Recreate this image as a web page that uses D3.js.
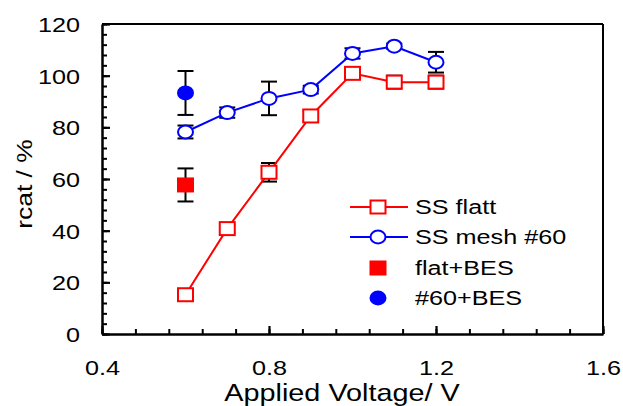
<!DOCTYPE html>
<html>
<head>
<meta charset="utf-8">
<script src="https://cdn.jsdelivr.net/npm/d3@7"></script>
<style>
  body { margin: 0; background: #fff; }
  text { font-family: "Liberation Sans", Arial, sans-serif; fill: #000; }
</style>
</head>
<body>
<svg id="chart" width="623" height="406"></svg>
<script>
const voltages = [0.6, 0.7, 0.8, 0.9, 1.0, 1.1, 1.2]
const flatValues = [15.2, 40.8, 62.6, 84.4, 100.9, 97.5, 97.5]
const flatErrors = [1, 1.5, 3.6, 2, 1, 2.5, 2.5]
const meshValues = [78.2, 85.7, 91.2, 94.6, 108.6, 111.4, 105.2]
const meshErrors = [2.5, 2, 6.5, 1.5, 2, 1, 4]
const besVoltage = [0.6]
const flatBesValues = [57.7]
const flatBesErrors = [6.4]
const meshBesValues = [93.3]
const meshBesErrors = [8.5]
const xTicks = [0.4, 0.8, 1.2, 1.6]
const yTicks = [0, 20, 40, 60, 80, 100, 120]
const legendLabels = ['SS flatt', 'SS mesh #60', 'flat+BES', '#60+BES']

const STRETCH = 1.2
const RED = '#ff0000', BLUE = '#0000ff'

const svg = d3.select('#chart');
const plotLeft = 102, plotRight = 603, plotTop = 24, plotBottom = 334;

const x = d3.scaleLinear().domain([0.4, 1.6]).range([plotLeft, plotRight]);
const y = d3.scaleLinear().domain([0, 120]).range([plotBottom, plotTop]);

// minor ticks first so major ones sit on top
const xMinor = d3.range(0.4, 1.6001, 0.08);
const yMinor = d3.range(0, 120.001, 4);

svg.append('g')
   .attr('transform', `translate(0,${plotBottom})`)
   .call(d3.axisBottom(x).tickValues(xMinor).tickSizeInner(-5).tickSizeOuter(0).tickFormat(''))
   .call(g => g.selectAll('line').attr('stroke-width', 2));
svg.append('g')
   .attr('transform', `translate(${plotLeft},0)`)
   .call(d3.axisLeft(y).tickValues(yMinor).tickSizeInner(-5).tickSizeOuter(0).tickFormat(''))
   .call(g => g.selectAll('line').attr('stroke-width', 2));

const xAxis = svg.append('g')
   .attr('transform', `translate(0,${plotBottom})`)
   .call(d3.axisBottom(x).tickValues(xTicks).tickSizeInner(-8).tickSizeOuter(0).tickPadding(26).tickFormat(d3.format('.1f')));
const yAxis = svg.append('g')
   .attr('transform', `translate(${plotLeft},0)`)
   .call(d3.axisLeft(y).tickValues(yTicks).tickSizeInner(-8).tickSizeOuter(0).tickPadding(22).tickFormat(d3.format('d')));

[xAxis, yAxis].forEach(ax => {
  ax.select('.domain').attr('stroke-width', 2.5);
  ax.selectAll('line').attr('stroke-width', 2.2);
  ax.selectAll('text')
    .attr('font-size', 21)
    .attr('font-family', '"Liberation Sans", Arial, sans-serif')
    .each(function() {
      const t = d3.select(this);
      const tx = +t.attr('x') || 0;
      t.attr('transform', `translate(${tx},0) scale(${STRETCH},1)`).attr('x', 0);
    });
});
yAxis.selectAll('text').attr('dy', '0.36em');

// top and right frame
svg.append('line').attr('x1', plotLeft).attr('x2', plotRight).attr('y1', plotTop).attr('y2', plotTop)
   .attr('stroke', '#000').attr('stroke-width', 2);
svg.append('line').attr('x1', plotRight).attr('x2', plotRight).attr('y1', plotTop).attr('y2', plotBottom)
   .attr('stroke', '#000').attr('stroke-width', 2);

// axis titles
svg.append('text')
   .attr('transform', `translate(342,401) scale(${STRETCH},1)`)
   .attr('text-anchor', 'middle').attr('font-size', 24)
   .text('Applied Voltage/ V');
svg.append('text')
   .attr('transform', `translate(32,184) rotate(-90) scale(${STRETCH},1)`)
   .attr('text-anchor', 'middle').attr('font-size', 22)
   .text('rcat / %');

// error bars
function errorBars(xs, vals, errs) {
  const g = svg.append('g').attr('stroke', '#000').attr('stroke-width', 2).attr('fill', 'none');
  xs.forEach((v, i) => {
    const cx = x(v), y1 = y(vals[i] + errs[i]), y2 = y(vals[i] - errs[i]);
    g.append('line').attr('x1', cx).attr('x2', cx).attr('y1', y1).attr('y2', y2);
    g.append('line').attr('x1', cx - 8).attr('x2', cx + 8).attr('y1', y1).attr('y2', y1);
    g.append('line').attr('x1', cx - 8).attr('x2', cx + 8).attr('y1', y2).attr('y2', y2);
  });
}
errorBars(voltages, flatValues, flatErrors);
errorBars(voltages, meshValues, meshErrors);
errorBars(besVoltage, flatBesValues, flatBesErrors);
errorBars(besVoltage, meshBesValues, meshBesErrors);

const line = d3.line().x(d => x(d[0])).y(d => y(d[1]));
const flatPts = voltages.map((v, i) => [v, flatValues[i]]);
const meshPts = voltages.map((v, i) => [v, meshValues[i]]);

svg.append('path').datum(flatPts).attr('d', line)
   .attr('fill', 'none').attr('stroke', RED).attr('stroke-width', 2);
svg.append('path').datum(meshPts).attr('d', line)
   .attr('fill', 'none').attr('stroke', BLUE).attr('stroke-width', 2);

function squares(g, pts, fill) {
  g.selectAll('rect.m').data(pts).join('rect').attr('class', 'm')
   .attr('x', d => x(d[0]) - 7.5).attr('y', d => y(d[1]) - 6.5)
   .attr('width', 15).attr('height', 13)
   .attr('fill', fill).attr('stroke', RED).attr('stroke-width', 2);
}
function circles(g, pts, fill) {
  g.selectAll('ellipse.m').data(pts).join('ellipse').attr('class', 'm')
   .attr('cx', d => x(d[0])).attr('cy', d => y(d[1]))
   .attr('rx', 7.5).attr('ry', 6.5)
   .attr('fill', fill).attr('stroke', BLUE).attr('stroke-width', 2);
}
squares(svg.append('g'), flatPts, '#fff');
circles(svg.append('g'), meshPts, '#fff');
squares(svg.append('g'), besVoltage.map((v, i) => [v, flatBesValues[i]]), RED);
circles(svg.append('g'), besVoltage.map((v, i) => [v, meshBesValues[i]]), BLUE);

// legend
const legendY = [207, 237, 268, 298];
const lg = svg.append('g');
legendLabels.forEach((label, i) => {
  const ly = legendY[i], mx = 378;
  if (i < 2) {
    lg.append('line').attr('x1', 350).attr('x2', 408).attr('y1', ly).attr('y2', ly)
      .attr('stroke', i === 0 ? RED : BLUE).attr('stroke-width', 2);
  }
  if (i % 2 === 0) {
    lg.append('rect').attr('x', mx - 7.5).attr('y', ly - 6.5).attr('width', 15).attr('height', 13)
      .attr('fill', i === 0 ? '#fff' : RED).attr('stroke', RED).attr('stroke-width', 2);
  } else {
    lg.append('ellipse').attr('cx', mx).attr('cy', ly).attr('rx', 7.5).attr('ry', 6.5)
      .attr('fill', i === 1 ? '#fff' : BLUE).attr('stroke', BLUE).attr('stroke-width', 2);
  }
  lg.append('text')
    .attr('transform', `translate(415,${ly + 7}) scale(${STRETCH},1)`)
    .attr('font-size', 21)
    .text(label);
});
</script>
</body>
</html>
